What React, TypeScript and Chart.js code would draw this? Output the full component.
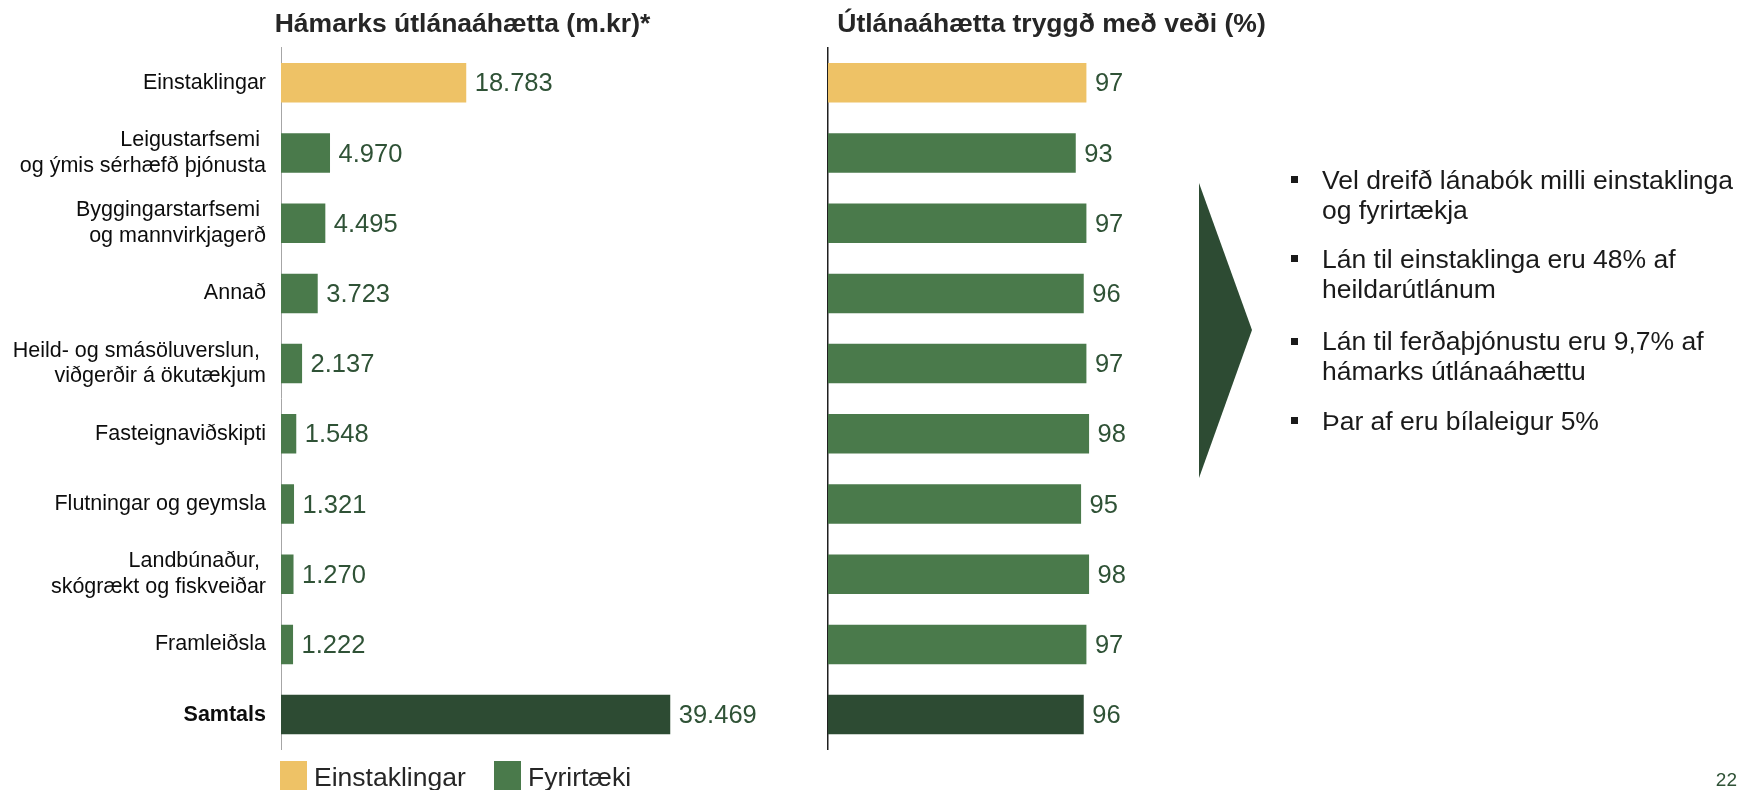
import React, { useEffect, useRef } from 'react';
import { Chart, registerables } from 'chart.js';

Chart.register(...registerables);

const FONT = "'Liberation Sans', Arial, Helvetica, sans-serif";

// ---------- data ----------
const categories: (string | string[])[] = [
  'Einstaklingar',
  ['Leigustarfsemi ', 'og ýmis sérhæfð þjónusta'],
  ['Byggingarstarfsemi ', 'og mannvirkjagerð'],
  'Annað',
  ['Heild- og smásöluverslun, ', 'viðgerðir á ökutækjum'],
  'Fasteignaviðskipti',
  'Flutningar og geymsla',
  ['Landbúnaður, ', 'skógrækt og fiskveiðar'],
  'Framleiðsla',
  'Samtals',
];
const segments = [
  'Einstaklingar',
  'Fyrirtæki',
  'Fyrirtæki',
  'Fyrirtæki',
  'Fyrirtæki',
  'Fyrirtæki',
  'Fyrirtæki',
  'Fyrirtæki',
  'Fyrirtæki',
  'Samtals',
];
const maxExposure = [18783, 4970, 4495, 3723, 2137, 1548, 1321, 1270, 1222, 39469];
const securedPct = [97, 93, 97, 96, 97, 98, 95, 98, 97, 96];
const legendItems = ['Einstaklingar', 'Fyrirtæki'];
const leftTitle = 'Hámarks útlánaáhætta (m.kr)*';
const rightTitle = 'Útlánaáhætta tryggð með veði (%)';
const bullets: string[][] = [
  ['Vel dreifð lánabók milli einstaklinga', 'og fyrirtækja'],
  ['Lán til einstaklinga eru 48% af', 'heildarútlánum'],
  ['Lán til ferðaþjónustu eru 9,7% af', 'hámarks útlánaáhættu'],
  ['Þar af eru bílaleigur 5%'],
];
const pageNumber = '22';
const exposureAxisMax = 65300;
const pctAxisMax = 178.3;

// ---------- styles ----------
const COLORS: Record<string, string> = {
  Einstaklingar: '#EEC266',
  Fyrirtæki: '#4A7A4B',
  Samtals: '#2D4B33',
};
const VALUE_COLOR = '#2F5236';
const bulletBaselines = [189.3, 268.3, 350.5, 430];

const fmtThousands = (v: number) =>
  String(v).replace(/\B(?=(\d{3})+(?!\d))/g, '.');

function valueLabelPlugin(fmt: (v: number) => string) {
  return {
    id: 'valueLabels',
    afterDatasetsDraw(chart: any) {
      const ctx = chart.ctx;
      const meta = chart.getDatasetMeta(0);
      const data = chart.data.datasets[0].data as number[];
      ctx.save();
      ctx.font = `25.5px ${FONT}`;
      ctx.fillStyle = VALUE_COLOR;
      ctx.textAlign = 'left';
      ctx.textBaseline = 'middle';
      meta.data.forEach((el: any, i: number) => {
        ctx.fillText(fmt(data[i]), el.x + 8.5, el.y + 1.5);
      });
      ctx.restore();
    },
  };
}

function makeConfig(opts: {
  data: number[];
  title: string;
  max: number;
  axisWidth: number;
  showTicks: boolean;
  borderColor: string;
  borderWidth: number;
  fmt: (v: number) => string;
}): any {
  return {
    type: 'bar',
    data: {
      labels: categories,
      datasets: [
        {
          data: opts.data,
          backgroundColor: segments.map((s) => COLORS[s]),
          borderWidth: 0,
          barPercentage: 0.563,
          categoryPercentage: 1.0,
        },
      ],
    },
    options: {
      indexAxis: 'y',
      responsive: false,
      animation: false,
      devicePixelRatio: 1,
      layout: { padding: { left: 0, right: 0, top: 0, bottom: 40.3 } },
      plugins: {
        legend: { display: false },
        tooltip: { enabled: false },
        title: {
          display: true,
          text: opts.title,
          color: '#262626',
          font: { family: FONT, size: 26.5, weight: 'bold', lineHeight: 1.2 },
          padding: { top: 8.5, bottom: 7.4 },
        },
      },
      scales: {
        x: {
          display: false,
          min: 0,
          max: opts.max,
        },
        y: {
          type: 'category',
          afterFit: (axis: any) => {
            axis.width = opts.axisWidth;
          },
          grid: { display: false, drawTicks: false },
          border: { display: true, color: opts.borderColor, width: opts.borderWidth },
          ticks: {
            display: opts.showTicks,
            padding: 15,
            color: '#0D0D0D',
            autoSkip: false,
            font: (c: any) => ({
              family: FONT,
              size: 21.5,
              lineHeight: 1.2,
              weight: segments[c.index] === 'Samtals' ? 'bold' : 'normal',
            }),
          },
        },
      },
    },
    plugins: [valueLabelPlugin(opts.fmt)],
  };
}

export default function App() {
  const leftRef = useRef<HTMLCanvasElement>(null);
  const rightRef = useRef<HTMLCanvasElement>(null);

  useEffect(() => {
    Chart.defaults.font.family = FONT;
    const left = new Chart(
      leftRef.current as HTMLCanvasElement,
      makeConfig({
        data: maxExposure,
        title: leftTitle,
        max: exposureAxisMax,
        axisWidth: 281,
        showTicks: true,
        borderColor: '#A6A6A6',
        borderWidth: 1,
        fmt: fmtThousands,
      })
    );
    const right = new Chart(
      rightRef.current as HTMLCanvasElement,
      makeConfig({
        data: securedPct,
        title: rightTitle,
        max: pctAxisMax,
        axisWidth: 28,
        showTicks: false,
        borderColor: '#1F1F1F',
        borderWidth: 1.5,
        fmt: (v: number) => String(v),
      })
    );
    return () => {
      left.destroy();
      right.destroy();
    };
  }, []);

  const textStyle: React.CSSProperties = {
    position: 'absolute',
    fontFamily: FONT,
    fontSize: 26.5,
    lineHeight: '30px',
    color: '#1A1A1A',
    whiteSpace: 'nowrap',
  };

  return (
    <div
      style={{
        position: 'fixed',
        left: 0,
        top: 0,
        width: 1740,
        height: 790,
        overflow: 'hidden',
        background: '#ffffff',
        fontFamily: FONT,
      }}
    >
      <canvas
        ref={leftRef}
        width={925}
        height={790}
        style={{ position: 'absolute', left: 0, top: 0, width: 925, height: 790 }}
      />
      <canvas
        ref={rightRef}
        width={503}
        height={790}
        style={{ position: 'absolute', left: 800, top: 0, width: 503, height: 790 }}
      />

      {/* legend */}
      {legendItems.map((name, i) => {
        const sqLeft = i === 0 ? 280 : 494;
        return (
          <React.Fragment key={name}>
            <div
              style={{
                position: 'absolute',
                left: sqLeft,
                top: 761,
                width: 27,
                height: 30,
                background: COLORS[name],
              }}
            />
            <div style={{ ...textStyle, left: sqLeft + 34, top: 761.5, color: '#262626' }}>{name}</div>
          </React.Fragment>
        );
      })}

      {/* chevron */}
      <svg
        width={1740}
        height={790}
        style={{ position: 'absolute', left: 0, top: 0, pointerEvents: 'none' }}
      >
        <polygon points="1199,183 1252,330 1199,478" fill="#2D4B33" />
      </svg>

      {/* bullets */}
      {bullets.map((lines, i) => (
        <React.Fragment key={i}>
          <div
            style={{
              position: 'absolute',
              left: 1291,
              top: bulletBaselines[i] - 13,
              width: 7,
              height: 7,
              background: '#1A1A1A',
            }}
          />
          <div style={{ ...textStyle, left: 1322, top: bulletBaselines[i] - 24.2 }}>
            {lines.map((l, j) => (
              <div key={j}>{l}</div>
            ))}
          </div>
        </React.Fragment>
      ))}

      {/* page number */}
      <div
        style={{
          position: 'absolute',
          right: 3,
          top: 769.4,
          fontFamily: FONT,
          fontSize: 19,
          lineHeight: '22px',
          color: VALUE_COLOR,
        }}
      >
        {pageNumber}
      </div>
    </div>
  );
}
